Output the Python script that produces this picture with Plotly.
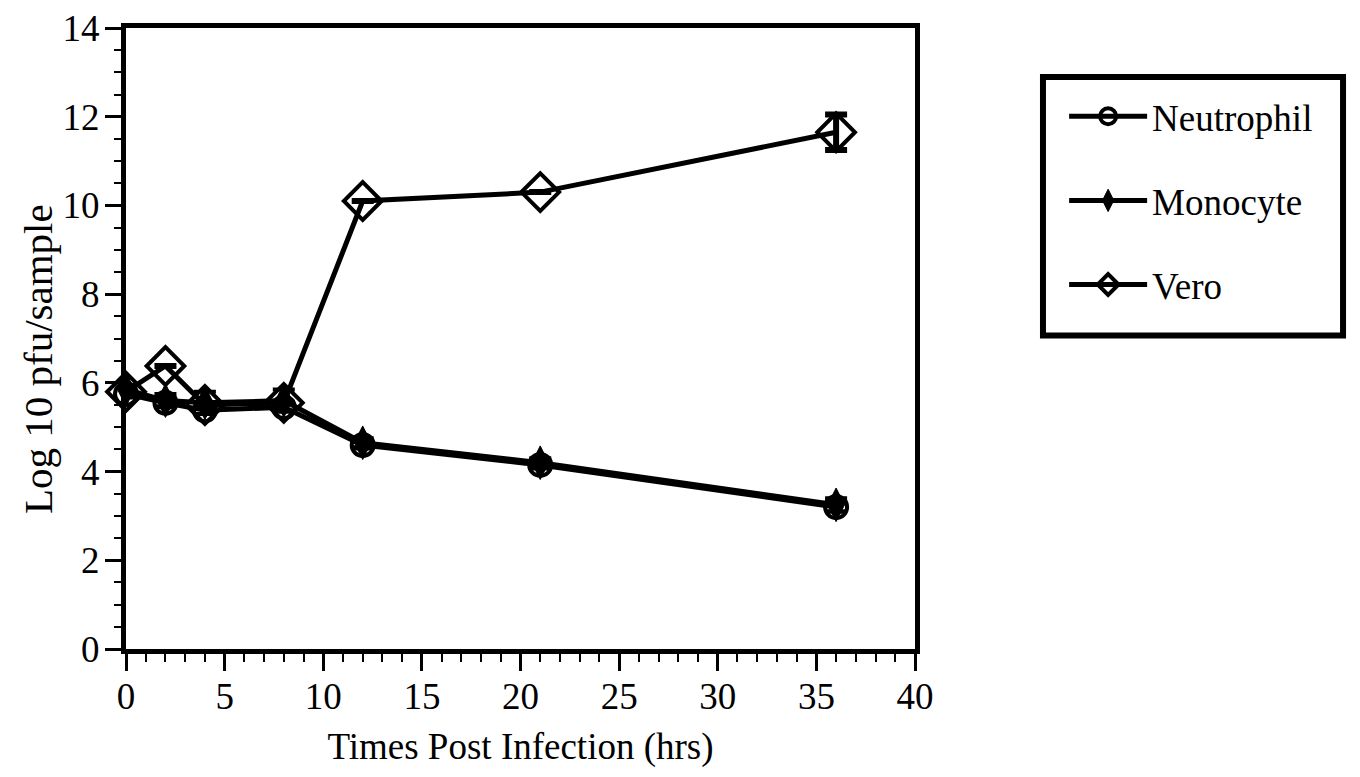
import plotly.graph_objects as go

hours = [0, 2, 4, 8, 12, 21, 36]

neutrophil = [5.75, 5.55, 5.38, 5.45, 4.6, 4.15, 3.2]
neutrophil_err = [0.08, 0.08, 0.08, 0.08, 0.08, 0.08, 0.1]

monocyte = [5.85, 5.6, 5.55, 5.6, 4.65, 4.2, 3.25]
monocyte_err = [0.1, 0.15, 0.25, 0.25, 0.1, 0.1, 0.15]

vero = [5.8, 6.38, 5.5, 5.55, 10.1, 10.3, 11.65]
vero_err = [0, 0, 0, 0, 0, 0, 0.4]

series_names = ["Neutrophil", "Monocyte", "Vero"]

x_ticks = [0, 5, 10, 15, 20, 25, 30, 35, 40]
y_ticks = [0, 2, 4, 6, 8, 10, 12, 14]

x_title = "Times Post Infection (hrs)"
y_title = "Log 10 pfu/sample"

FONT = "Liberation Serif, Times New Roman, serif"

fig = go.Figure()

def err(vals, thick=4):
    return dict(type="data", array=vals, visible=True, color="black",
                thickness=thick, width=11)

fig.add_trace(go.Scatter(
    x=hours, y=vero, name=series_names[2], mode="lines+markers",
    line=dict(color="black", width=5),
    marker=dict(symbol="diamond-open", size=29, color="black",
                line=dict(width=4, color="black")),
    error_y=err(vero_err, 6), legendgroup="c", legendrank=3, cliponaxis=False,
))
fig.add_trace(go.Scatter(
    x=hours, y=monocyte, name=series_names[1], mode="lines+markers",
    line=dict(color="black", width=5),
    marker=dict(symbol="diamond-tall", size=24, color="black",
                line=dict(width=1, color="black")),
    error_y=err(monocyte_err), legendgroup="b", legendrank=2, cliponaxis=False,
))
fig.add_trace(go.Scatter(
    x=hours, y=neutrophil, name=series_names[0], mode="lines+markers",
    line=dict(color="black", width=5),
    marker=dict(symbol="circle-open", size=22, color="black",
                line=dict(width=4, color="black")),
    error_y=err(neutrophil_err), legendgroup="a", legendrank=1, cliponaxis=False,
))

axis_common = dict(
    showgrid=False, zeroline=False, showline=True, linecolor="black",
    linewidth=5, mirror=True, ticks="outside", tickcolor="black",
    tickwidth=3, automargin=False, ticklabeloverflow="allow",
    tickfont=dict(family=FONT, size=37, color="black"),
)

fig.update_xaxes(
    range=[0, 40], tickvals=x_ticks, ticktext=[str(v) for v in x_ticks],
    ticklen=17, ticklabelstandoff=-6,
    minor=dict(dtick=1, ticks="outside", ticklen=8, tickwidth=2, tickcolor="black"),
    title=dict(text=x_title,
               font=dict(family=FONT, size=37, color="black"), standoff=18),
    **axis_common,
)
fig.update_yaxes(
    range=[0, 14], tickvals=y_ticks, ticktext=[str(v) for v in y_ticks],
    ticklen=16, ticklabelstandoff=-2,
    minor=dict(dtick=0.5, ticks="outside", ticklen=7, tickwidth=2, tickcolor="black"),
    **axis_common,
)

fig.update_layout(
    width=1360, height=777,
    margin=dict(l=118, r=453, t=20, b=136),
    plot_bgcolor="white", paper_bgcolor="white",
    showlegend=True,
    legend=dict(
        x=1.189, y=0.907, xanchor="left", yanchor="top",
        traceorder="grouped", tracegroupgap=33,
        font=dict(family=FONT, size=37, color="black"),
        bgcolor="rgba(0,0,0,0)", borderwidth=0, itemwidth=78,
    ),
    annotations=[dict(
        text=y_title, textangle=-90, xref="paper", yref="paper",
        x=-0.1115, y=0.467, xanchor="center", yanchor="middle",
        showarrow=False, font=dict(family=FONT, size=41, color="black"),
    )],
    shapes=[dict(type="rect", xref="paper", yref="paper",
                 x0=1.1622, x1=1.5425, y0=0.505, y1=0.921,
                 line=dict(color="black", width=6))],
)

fig.write_html("out.html")
